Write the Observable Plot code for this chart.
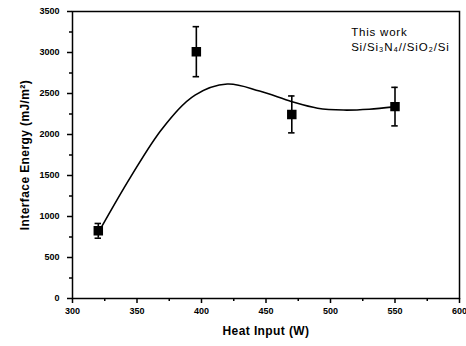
<!DOCTYPE html>
<html>
<head>
<meta charset="utf-8">
<script src="https://cdn.jsdelivr.net/npm/d3@7"></script>
<script src="https://cdn.jsdelivr.net/npm/@observablehq/plot@0.6"></script>
<style>
  html, body { margin: 0; padding: 0; background: #fff; }
  svg { font-family: "Liberation Sans", Arial, sans-serif; }
</style>
</head>
<body>
<div id="chart"></div>
<script>
// Measured points (Heat input W, interface energy mJ/m²) with error
const heatInput = [320, 396, 470, 550];
const energy = [825, 3010, 2245, 2340];
const errorBar = [90, 305, 225, 235];

// Fitted curve
const curveX = [321, 345, 370, 395, 420, 445, 470, 490, 510, 530, 549];
const curveY = [830, 1480, 2080, 2480, 2615, 2530, 2400, 2320, 2298, 2308, 2337];

const xMajor = [300, 350, 400, 450, 500, 550, 600];
const xMinor = [325, 375, 425, 475, 525, 575];
const yMajor = [0, 500, 1000, 1500, 2000, 2500, 3000, 3500];
const yMinor = [250, 750, 1250, 1750, 2250, 2750, 3250];

const legendLines = ["This work", "Si/Si₃N₄//SiO₂/Si"];
const legendY = [3245, 3060];

const points = heatInput.map((x, i) => ({x, y: energy[i], e: errorBar[i]}));
const curve = curveX.map((x, i) => ({x, y: curveY[i]}));
const legend = legendLines.map((t, i) => ({t, y: legendY[i]}));

const chart = Plot.plot({
  width: 466,
  height: 346,
  marginLeft: 72,
  marginRight: 7,
  marginTop: 11,
  marginBottom: 48,
  style: {fontFamily: "'Liberation Sans', Arial, sans-serif", color: "#000", background: "#fff"},
  x: {domain: [300, 600]},
  y: {domain: [0, 3500]},
  marks: [
    Plot.frame({stroke: "#000", strokeWidth: 1.5}),
    Plot.axisX({ticks: xMajor, tickSize: 5, tickPadding: 4, fontSize: 9, fontWeight: "bold",
      tickFormat: "d", strokeWidth: 1.5, fill: "#000",
      label: "Heat Input (W)", labelAnchor: "center", labelOffset: 36, labelArrow: "none"}),
    Plot.axisX({ticks: xMinor, tickSize: 3, strokeWidth: 1.5, tickFormat: () => "", label: null}),
    Plot.axisY({ticks: yMajor, tickSize: 5, tickPadding: 8, fontSize: 9, fontWeight: "bold",
      tickFormat: "d", strokeWidth: 1.5, fill: "#000",
      label: "Interface Energy (mJ/m²)", labelAnchor: "center", labelOffset: 52, labelArrow: "none"}),
    Plot.axisY({ticks: yMinor, tickSize: 3, strokeWidth: 1.5, tickFormat: () => "", label: null}),
    Plot.line(curve, {x: "x", y: "y", curve: "catmull-rom", stroke: "#000", strokeWidth: 1.6}),
    Plot.ruleX(points, {x: "x", y1: d => d.y - d.e, y2: d => d.y + d.e, stroke: "#000", strokeWidth: 1.6}),
    Plot.ruleY(points, {y: d => d.y + d.e, x1: d => d.x - 2.5, x2: d => d.x + 2.5, stroke: "#000", strokeWidth: 1.6}),
    Plot.ruleY(points, {y: d => d.y - d.e, x1: d => d.x - 2.5, x2: d => d.x + 2.5, stroke: "#000", strokeWidth: 1.6}),
    Plot.dot(points, {x: "x", y: "y", symbol: "square", r: 4.5, fill: "#000", stroke: "#000"}),
    Plot.text(legend, {x: 516, y: "y", text: "t", textAnchor: "start", fontSize: 11.5, fill: "#000"})
  ]
});
document.getElementById("chart").appendChild(chart);
chart.querySelectorAll("[aria-label='x-axis label'], [aria-label='y-axis label']").forEach(g => {
  g.setAttribute("font-size", "12");
  g.setAttribute("font-weight", "bold");
  g.setAttribute("fill", "#000");
  g.setAttribute("letter-spacing", "0.4");
});
chart.querySelectorAll("[aria-label='x-axis tick label'], [aria-label='y-axis tick label']").forEach(g => {
  g.setAttribute("fill", "#000");
});
chart.querySelectorAll("[aria-label='text']").forEach(g => {
  g.setAttribute("letter-spacing", "0.8");
});
</script>
</body>
</html>
